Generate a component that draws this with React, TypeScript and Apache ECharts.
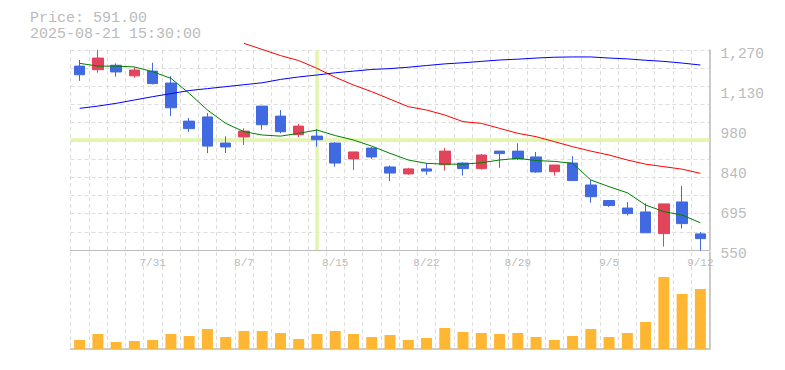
import React, { useEffect, useRef } from "react";
import * as echarts from "echarts";

const dates = [
  "7/25", "7/28", "7/29", "7/30", "7/31", "8/1", "8/4", "8/5", "8/6", "8/7",
  "8/8", "8/12", "8/13", "8/14", "8/15", "8/18", "8/19", "8/20", "8/21", "8/22",
  "8/25", "8/26", "8/27", "8/28", "8/29", "9/1", "9/2", "9/3", "9/4", "9/5",
  "9/8", "9/9", "9/10", "9/11", "9/12",
];
const xTickLabels = ["7/31", "8/7", "8/15", "8/22", "8/29", "9/5", "9/12"];

const opens = [1212, 1199, 1215, 1177, 1194, 1151, 1014, 1029, 935, 957, 1068, 1032, 965, 960, 935, 878, 917, 849, 824, 842, 857, 863, 843, 906, 906, 885, 832, 863, 784, 728, 701, 687, 609, 723, 608];
const closes = [1181, 1241, 1191, 1198, 1149, 1062, 987, 924, 921, 978, 1001, 976, 996, 947, 863, 903, 885, 827, 842, 834, 906, 843, 892, 897, 878, 831, 856, 800, 742, 710, 681, 612, 716, 645, 591];
const lows = [1159, 1188, 1174, 1170, 1146, 1032, 975, 899, 899, 928, 983, 970, 956, 922, 850, 838, 878, 798, 821, 821, 836, 818, 839, 846, 874, 828, 818, 800, 720, 705, 674, 612, 562, 627, 548];
const highs = [1234, 1270, 1222, 1208, 1224, 1176, 1025, 1043, 959, 988, 1068, 1054, 1004, 985, 938, 903, 920, 854, 846, 863, 917, 866, 895, 906, 934, 903, 856, 888, 802, 730, 723, 718, 716, 780, 615];

const volumes = [36000, 60000, 28000, 32000, 36000, 60000, 52000, 80000, 48000, 72000, 72000, 64000, 40000, 60000, 72000, 60000, 48000, 56000, 36000, 44000, 84000, 68000, 64000, 60000, 64000, 48000, 36000, 52000, 80000, 48000, 64000, 108000, 288000, 220000, 240000];

const ma5 = [1222, 1212, 1212, 1209, 1192, 1168, 1114, 1054, 1006, 976, 964, 960, 970, 982, 962, 946, 924, 898, 874, 862, 859, 859, 864, 874, 880, 872, 869, 862, 802, 778, 756, 712, 688, 676, 648];
const ma25 = ["-", "-", "-", "-", "-", "-", "-", "-", "-", 1294, 1272, 1250, 1232, 1204, 1172, 1144, 1120, 1093, 1066, 1054, 1036, 1012, 1006, 988, 970, 958, 940, 922, 906, 892, 874, 859, 850, 841, 826];
const ma75 = [1060, 1068, 1078, 1090, 1102, 1113, 1124, 1131, 1138, 1145, 1152, 1164, 1173, 1180, 1188, 1194, 1200, 1203, 1208, 1214, 1220, 1224, 1229, 1234, 1237, 1241, 1244, 1245, 1245, 1241, 1238, 1233, 1229, 1223, 1216];

const yMin = 550;
const yMax = 1270;
const yStep = 144;
const yTickLabels = ["550", "695", "840", "980", "1,130", "1,270"];

const crossDate = "8/14";
const crossPrice = 946;
const headerTime = "2025-08-21 15:30:00";

const MONO = '"Liberation Mono", "DejaVu Sans Mono", monospace';
const GRAY = "#bbbbbb";
const GRID_LINE = "#dddddd";
const UP = "#e2445c";
const DOWN = "#4169e1";

export default function App() {
  const ref = useRef<HTMLDivElement>(null);
  useEffect(() => {
    if (!ref.current) return;
    const chart = echarts.init(ref.current, null, { renderer: "svg" });
    const candles = dates.map((_, i) => [opens[i], closes[i], lows[i], highs[i]]);
    const lastClose = closes[closes.length - 1];
    const dashed = { type: [4, 3] as any, color: GRID_LINE, width: 1 };
    chart.setOption({
      animation: false,
      graphic: [
        { type: "text", left: 30, top: 11, style: { text: `Price: ${lastClose.toFixed(2)}`, font: `15px ${MONO}`, fill: GRAY } },
        { type: "text", left: 30, top: 27, style: { text: headerTime, font: `15px ${MONO}`, fill: GRAY } },
      ],
      grid: [
        { left: 70.5, right: 75.5, top: 50, height: 200 },
        { left: 70.5, right: 75.5, top: 252, bottom: 21 },
      ],
      xAxis: [
        {
          type: "category", gridIndex: 0, data: dates, boundaryGap: true,
          axisLine: { lineStyle: { color: GRAY, width: 1 } },
          axisTick: { show: false },
          axisLabel: {
            interval: (_i: number, v: string) => xTickLabels.includes(v),
            color: GRAY, fontFamily: MONO, fontSize: 11, margin: 7,
          },
          splitLine: { show: true, interval: 0, lineStyle: dashed },
        },
        {
          type: "category", gridIndex: 1, data: dates, boundaryGap: true,
          axisLine: { lineStyle: { color: GRAY, width: 1.5 } },
          axisTick: { show: false },
          axisLabel: { show: false },
          splitLine: { show: true, interval: 0, lineStyle: dashed },
        },
      ],
      yAxis: [
        {
          type: "value", gridIndex: 0, position: "right", min: yMin, max: yMax, interval: yStep,
          axisLine: { show: true, lineStyle: { color: GRAY, width: 1.5 } },
          axisTick: { show: false },
          axisLabel: {
            color: GRAY, fontFamily: MONO, fontSize: 14.5, margin: 11,
            verticalAlign: "top", lineHeight: 7,
            formatter: (v: number) => yTickLabels[Math.round((v - yMin) / yStep)],
          },
          splitLine: { show: false },
        },
        {
          type: "value", gridIndex: 0, position: "right", min: 0, max: 11, interval: 1,
          axisLine: { show: false }, axisTick: { show: false }, axisLabel: { show: false },
          splitLine: { show: true, lineStyle: dashed },
        },
        {
          type: "value", gridIndex: 1, position: "right", min: 0, max: 388000,
          axisLine: { show: true, lineStyle: { color: GRAY, width: 1.5 } },
          axisTick: { show: false }, axisLabel: { show: false }, splitLine: { show: false },
        },
      ],
      series: [
        {
          type: "candlestick", name: "price", xAxisIndex: 0, yAxisIndex: 0, data: candles,
          barWidth: 11, z: 2,
          itemStyle: { color: UP, color0: DOWN, borderColor: UP, borderColor0: DOWN, borderWidth: 1 },
          markLine: {
            silent: true, z: 1, symbol: ["none", "none"], label: { show: false },
            lineStyle: { color: "#e3f4ad", width: 3.5, type: "solid" },
            data: [{ xAxis: crossDate }, { yAxis: crossPrice }],
          },
        },
        { type: "line", name: "MA5", xAxisIndex: 0, yAxisIndex: 0, data: ma5, symbol: "none", clip: false, z: 3, lineStyle: { color: "#008000", width: 1 } },
        { type: "line", name: "MA25", xAxisIndex: 0, yAxisIndex: 0, data: ma25, symbol: "none", clip: false, z: 3, lineStyle: { color: "#ff0000", width: 1 } },
        { type: "line", name: "MA75", xAxisIndex: 0, yAxisIndex: 0, data: ma75, symbol: "none", clip: false, z: 3, lineStyle: { color: "#0000ff", width: 1 } },
        {
          type: "bar", name: "volume", xAxisIndex: 1, yAxisIndex: 2, data: volumes, barWidth: 11,
          itemStyle: { color: "#ffb733" },
        },
      ],
    });
    return () => chart.dispose();
  }, []);
  return <div ref={ref} style={{ position: "absolute", left: 0, top: 0, width: 785, height: 370 }} />;
}
